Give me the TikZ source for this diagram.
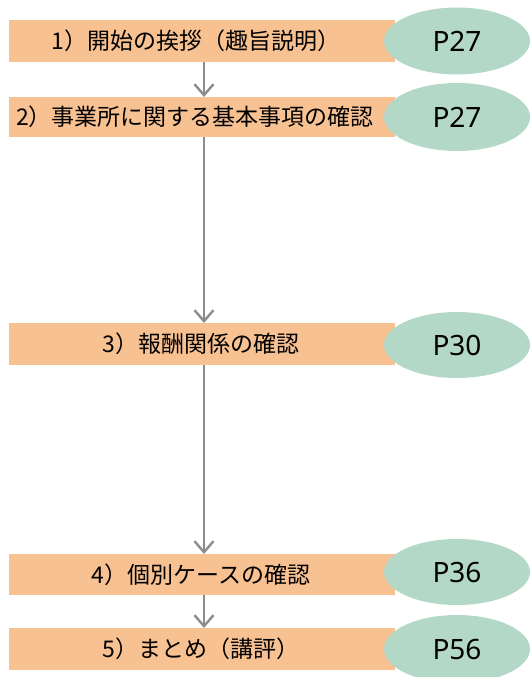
\documentclass[tikz,border=0pt]{standalone}
\usepackage{fontspec}
\setmainfont{Noto Sans CJK JP}
\newfontfamily\latinfont{Noto Sans}
\usetikzlibrary{arrows.meta,shapes.geometric}
\definecolor{boxorange}{RGB}{248,193,146}
\definecolor{ovalgreen}{RGB}{180,216,200}
\definecolor{arrowgray}{RGB}{140,140,140}
\tikzset{
  stepbox/.style={fill=boxorange, draw=none, minimum width=386pt, inner sep=0pt, anchor=north west},
  steptext/.style={inner sep=0pt, font=\fontsize{23}{23}\selectfont},
  pageoval/.style={ellipse, fill=ovalgreen, draw=none, minimum width=146pt, inner sep=0pt, font=\latinfont\fontsize{28}{28}\selectfont},
  flow/.style={draw=arrowgray, line width=2.4pt, -{Straight Barb[length=11pt,width=19pt,line width=2.4pt]}}
}
\begin{document}
\begin{tikzpicture}[x=1pt,y=-1pt]
\useasboundingbox (0,0) rectangle (531,677);
\node[stepbox, minimum height=42pt] (s1) at (9,20) {};
\node[stepbox, minimum height=40pt] (s2) at (9,97) {};
\node[stepbox, minimum height=42pt] (s3) at (9,323) {};
\node[stepbox, minimum height=41pt] (s4) at (9,554) {};
\node[stepbox, minimum height=42pt] (s5) at (9,628) {};
\node[steptext] (t1) at (196,41) {1）開始の挨拶（趣旨説明）};
\node[steptext] (t2) at (195,117) {2）事業所に関する基本事項の確認};
\node[steptext] (t3) at (201,344) {3）報酬関係の確認};
\node[steptext] (t4) at (201,575) {4）個別ケースの確認};
\node[steptext] (t5) at (201,649) {5）まとめ（講評）};
\node[pageoval, minimum height=67pt] (p1) at (457,41) {P27};
\node[pageoval, minimum height=68pt] (p2) at (457,117) {P27};
\node[pageoval, minimum height=66pt] (p3) at (457,345) {P30};
\node[pageoval, minimum height=66pt] (p4) at (457,572) {P36};
\node[pageoval, minimum height=68pt] (p5) at (457,649) {P56};
\coordinate (a1) at (204,62);
\coordinate (b1) at (204,97);
\coordinate (a2) at (204,137);
\coordinate (b2) at (204,323);
\coordinate (a3) at (204,365);
\coordinate (b3) at (204,554);
\coordinate (a4) at (204,595);
\coordinate (b4) at (204,628);
\draw[flow] (a1) -- (b1);
\draw[flow] (a2) -- (b2);
\draw[flow] (a3) -- (b3);
\draw[flow] (a4) -- (b4);
\end{tikzpicture}
\end{document}
